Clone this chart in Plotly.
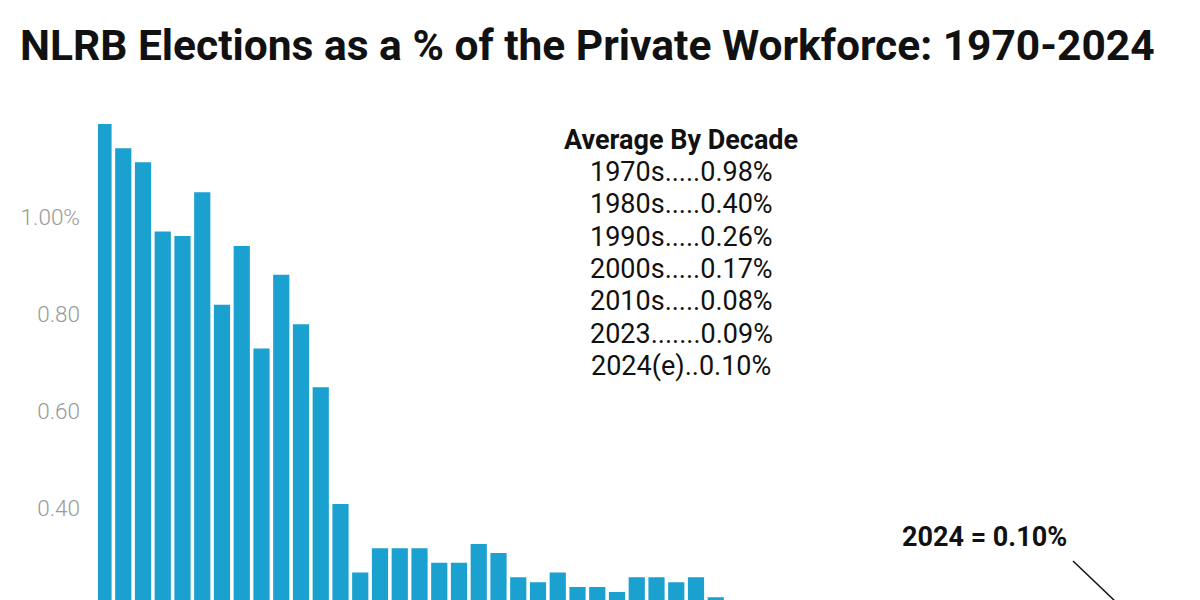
import plotly.graph_objects as go

years = list(range(1970, 2025))
values = [
    1.192, 1.142, 1.113, 0.970, 0.961, 1.051, 0.819, 0.940, 0.729, 0.881,
    0.779, 0.649, 0.408, 0.267, 0.317, 0.317, 0.317, 0.287, 0.287, 0.326,
    0.307, 0.257, 0.247, 0.267, 0.237, 0.237, 0.227, 0.257, 0.257, 0.247,
    0.257, 0.216, 0.180, 0.170, 0.160, 0.150, 0.150, 0.140, 0.130, 0.130,
    0.110, 0.100, 0.090, 0.090, 0.080, 0.080, 0.070, 0.070, 0.060, 0.060,
    0.050, 0.060, 0.080, 0.090, 0.100,
]
tick_vals = [0.2, 0.4, 0.6, 0.8, 1.0]
tick_text = ["0.20", "0.40", "0.60", "0.80", "1.00%"]
decade_heading = "Average By Decade"
decade_lines = [
    "1970s.....0.98%",
    "1980s.....0.40%",
    "1990s.....0.26%",
    "2000s.....0.17%",
    "2010s.....0.08%",
    "2023.......0.09%",
    "2024(e)..0.10%",
]
callout_text = "2024 = 0.10%"

W, H = 1200, 600
OFF = 8  # page body margin
ML, MR, MT, MB = 90, 10, 100, 0
PW, PH = W - ML - MR, H - MT - MB


def px_x(px):
    return (px - OFF - ML) / PW


def px_y(py):
    return (H - MB - (py - OFF)) / PH


# screen mapping: value 0 at y=702, 485 px per unit; 1970 centre at x=103.5, 19.75 px/yr
ZERO = 702 - OFF
y_top = (ZERO - MT) / 485
y_bot = (ZERO - (H - MB)) / 485
x0 = 1970 - (103.5 - OFF - ML) / 19.75
x1 = x0 + PW / 19.75

fig = go.Figure()
fig.add_trace(go.Bar(
    x=years, y=values,
    marker=dict(color="#1BA1CF", line=dict(width=0)),
    hoverinfo="x+y",
))

fig.update_layout(
    width=W, height=H,
    margin=dict(l=ML, r=MR, t=MT, b=MB),
    paper_bgcolor="white", plot_bgcolor="white",
    bargap=0.18,
    showlegend=False,
    font=dict(family="Roboto"),
    title=dict(
        text="<b>NLRB Elections as a % of the Private Workforce: 1970-2024</b>",
        font=dict(family="Roboto", size=42.5, color="#111111"),
        x=(20 - OFF) / W, xanchor="left", xref="container",
        y=1 - (45 - OFF) / H, yanchor="middle", yref="container",
    ),
    xaxis=dict(range=[x0, x1], showticklabels=False, showgrid=False,
               zeroline=False, showline=False, ticks=""),
    yaxis=dict(range=[y_bot, y_top], tickvals=tick_vals, ticktext=tick_text,
               showgrid=False, zeroline=False, showline=False, ticks="",
               ticklabelstandoff=17,
               tickfont=dict(family="Roboto", size=22.5, color="#999999",
                             weight=300)),
)

annotations = []
annotations.append(dict(
    text="<b>" + decade_heading + "</b>", x=px_x(681), y=px_y(140),
    xref="paper", yref="paper", xanchor="center", yanchor="middle",
    showarrow=False, font=dict(family="Roboto", size=27, color="#111111"),
))
for i, line in enumerate(decade_lines):
    annotations.append(dict(
        text=line, x=px_x(681), y=px_y(172 + i * 32.3),
        xref="paper", yref="paper", xanchor="center", yanchor="middle",
        showarrow=False, font=dict(family="Roboto", size=27, color="#111111"),
    ))
annotations.append(dict(
    text="<b>" + callout_text + "</b>", x=px_x(984), y=px_y(537),
    xref="paper", yref="paper", xanchor="center", yanchor="middle",
    showarrow=False, font=dict(family="Roboto", size=27, color="#111111"),
))
fig.update_layout(annotations=annotations)

# callout leader line toward the 2024 bar
fig.add_shape(type="line", xref="x", yref="y",
              x0=1970 + (1073 - 103.5) / 19.75, y0=(702 - 561) / 485,
              x1=years[-1], y1=values[-1],
              line=dict(color="#111111", width=1.5))

fig.write_html("out.html")
